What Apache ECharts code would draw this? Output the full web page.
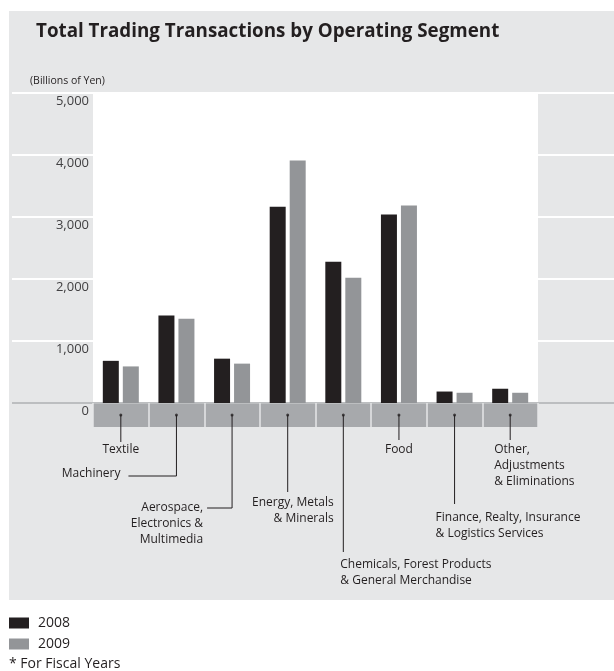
<!DOCTYPE html>
<html>
<head>
<meta charset="utf-8">
<script src="https://cdn.jsdelivr.net/npm/echarts@6/dist/echarts.min.js"></script>
<style>
  html, body { margin: 0; padding: 0; background: #fff; }
  #main { width: 614px; height: 671px; }
</style>
</head>
<body>
<div id="main"></div>
<script>
var categories = [
    'Textile',
    'Machinery',
    'Aerospace,\nElectronics &\nMultimedia',
    'Energy, Metals\n& Minerals',
    'Chemicals, Forest Products\n& General Merchandise',
    'Food',
    'Finance, Realty, Insurance\n& Logistics Services',
    'Other,\nAdjustments\n& Eliminations'
];
var fy2008 = [680, 1410, 715, 3165, 2280, 3040, 185, 230];
var fy2009 = [590, 1360, 635, 3910, 2020, 3185, 165, 165];
var yTicks = [0, 1000, 2000, 3000, 4000, 5000];

// where each segment's label sits, relative to its tick
var labelLayout = [
    { drop: 442, elbow: 0, tx: 0, ty: 450, align: 'center' },
    { drop: 476, elbow: -48, tx: -56, ty: 474, align: 'right' },
    { drop: 508, elbow: -25, tx: -29, ty: 508, align: 'right' },
    { drop: 492, elbow: 0, tx: 46, ty: 503, align: 'right' },
    { drop: 552, elbow: 0, tx: -3, ty: 565, align: 'left' },
    { drop: 440, elbow: 0, tx: 0, ty: 450, align: 'center' },
    { drop: 504, elbow: 0, tx: -19, ty: 518, align: 'left' },
    { drop: 440, elbow: 0, tx: -16, ty: 450, align: 'left' }
];

var font = 'Open Sans';
var ink = '#231f20';
var myChart = echarts.init(document.getElementById('main'));

var option = {
    animation: false,
    textStyle: { fontFamily: font },
    title: [
        {
            text: 'Total Trading Transactions by Operating Segment',
            left: 36, top: 22, padding: 0,
            textStyle: { fontSize: 18.8, fontWeight: 'bold', color: ink, fontFamily: font }
        },
        {
            text: '(Billions of Yen)',
            left: 30, top: 76, padding: 0,
            textStyle: { fontSize: 10.5, fontWeight: 'normal', color: ink, fontFamily: font }
        },
        {
            text: '* For Fiscal Years',
            left: 9, top: 657, padding: 0,
            textStyle: { fontSize: 14, fontWeight: 'normal', color: ink, fontFamily: font }
        }
    ],
    legend: {
        orient: 'vertical',
        left: 9, top: 616, padding: 0,
        icon: 'rect',
        itemWidth: 20, itemHeight: 11,
        itemGap: 7,
        textStyle: { fontSize: 14, color: ink, fontFamily: font, lineHeight: 14, padding: [0, 0, 0, 4] },
        data: ['2008', '2009']
    },
    grid: [
        // gray panel
        { left: 9, top: 11, right: 0, bottom: 71, show: true, backgroundColor: '#e6e7e8', borderWidth: 0 },
        // white gridlines across the panel
        { left: 12, top: 93, right: 0, bottom: 268, show: false },
        // plot
        { left: 93, top: 93, right: 76, bottom: 268, show: true, backgroundColor: '#ffffff', borderWidth: 0 },
        // category band under zero
        { left: 93, top: 403, right: 76, bottom: 244, show: true, backgroundColor: '#a7a9ac', borderWidth: 0 }
    ],
    xAxis: [
        { gridIndex: 0, type: 'value', show: false },
        { gridIndex: 1, type: 'value', show: false },
        {
            gridIndex: 2, type: 'category', data: categories,
            axisLine: { show: false }, axisTick: { show: false }, axisLabel: { show: false }
        },
        {
            gridIndex: 3, type: 'category', data: categories,
            axisLine: { show: false }, axisTick: { show: false }, axisLabel: { show: false },
            splitLine: { show: true, interval: 0, lineStyle: { color: '#e6e7e8', width: 1.5 } }
        }
    ],
    yAxis: [
        { gridIndex: 0, type: 'value', show: false },
        {
            gridIndex: 1, type: 'value', min: 0, max: 5000, interval: 1000,
            axisLine: { show: false }, axisTick: { show: false }, axisLabel: { show: false },
            splitLine: { show: true, lineStyle: { color: ['#bcbec0', '#fff', '#fff', '#fff', '#fff', '#fff'], width: 2 } }
        },
        {
            gridIndex: 2, type: 'value', min: 0, max: 5000, interval: 1000,
            axisLine: { show: false }, axisTick: { show: false }, splitLine: { show: false },
            axisLabel: {
                fontSize: 13, color: '#414042', fontFamily: font, margin: 4,
                verticalAlign: 'top', padding: [2, 0, 0, 0],
                formatter: function (v) { return yTicks.indexOf(v) >= 0 ? v.toLocaleString('en-US') : ''; }
            }
        },
        { gridIndex: 3, type: 'value', min: -1, max: 1, show: false }
    ],
    series: [
        {
            name: '2008', type: 'bar', xAxisIndex: 2, yAxisIndex: 2,
            barWidth: 16, barGap: '25%',
            itemStyle: { color: ink },
            data: fy2008
        },
        {
            name: '2009', type: 'bar', xAxisIndex: 2, yAxisIndex: 2,
            barWidth: 16, barGap: '25%',
            itemStyle: { color: '#939598' },
            data: fy2009
        },
        {
            type: 'scatter', xAxisIndex: 3, yAxisIndex: 3,
            symbol: 'circle', symbolSize: 3,
            itemStyle: { color: ink },
            silent: true,
            data: categories.map(function (c) { return [c, 0]; })
        }
    ]
};
myChart.setOption(option);

// leader lines + segment names
var elements = [];
categories.forEach(function (c, i) {
    var cx = myChart.convertToPixel({ xAxisIndex: 2 }, c);
    var cy = myChart.convertToPixel({ xAxisIndex: 3, yAxisIndex: 3 }, [c, 0])[1];
    var l = labelLayout[i];
    var pts = [[cx, cy], [cx, l.drop]];
    if (l.elbow) pts.push([cx + l.elbow, l.drop]);
    elements.push({
        type: 'polyline', silent: true,
        shape: { points: pts },
        style: { stroke: ink, lineWidth: 1, fill: null }
    });
    elements.push({
        type: 'text', silent: true,
        x: cx + l.tx, y: l.ty - 8,
        style: {
            text: c, fill: ink, fontSize: 12, fontFamily: font, lineHeight: 16,
            align: l.align, textAlign: l.align, verticalAlign: 'top', textVerticalAlign: 'top'
        }
    });
});
myChart.setOption({ graphic: { elements: elements } });
</script>
</body>
</html>
